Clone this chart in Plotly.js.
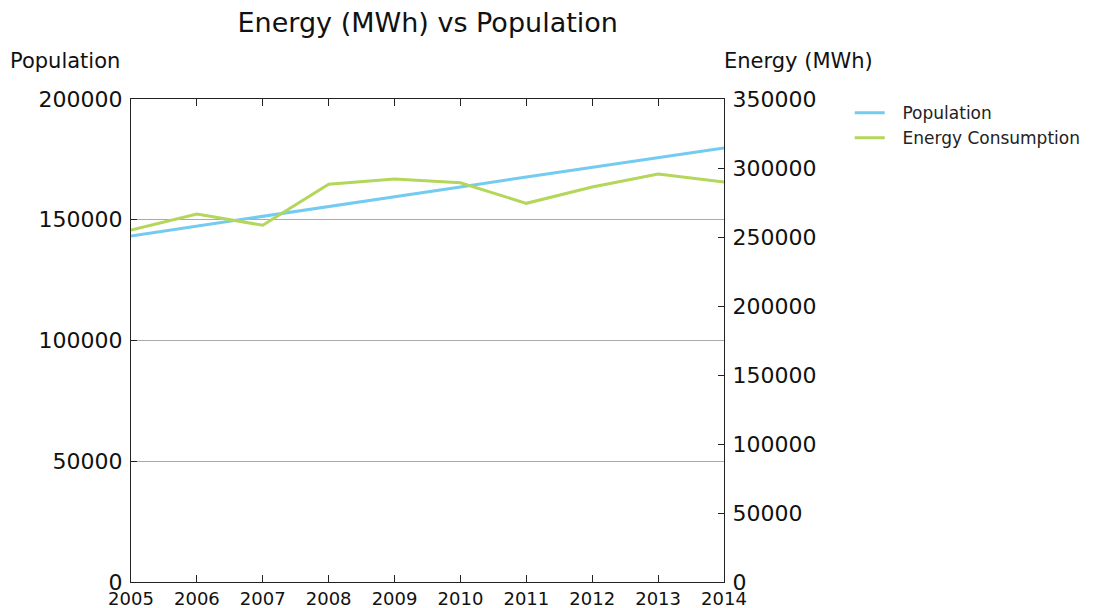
<!DOCTYPE html>
<html>
<head>
<meta charset="utf-8">
<script src="https://cdn.plot.ly/plotly-3.0.1.min.js"></script>
<style>html,body{margin:0;padding:0;background:#fff;}#chart{width:1111px;height:608px;}</style>
</head>
<body>
<div id="chart"></div>
<script>
const years = [2005, 2006, 2007, 2008, 2009, 2010, 2011, 2012, 2013, 2014];
const population = [143300, 147300, 151300, 155400, 159500, 163600, 167700, 171700, 175700, 179700];
const energy = [255000, 266700, 258500, 288200, 292000, 289300, 274400, 286200, 295700, 289900];
const popTicks = [0, 50000, 100000, 150000, 200000];
const energyTicks = [0, 50000, 100000, 150000, 200000, 250000, 300000, 350000];
const seriesNames = ['Population', 'Energy Consumption'];

const F = 'DejaVu Sans, sans-serif';
const pad = '\u2002\u2005';
const traces = [
  {x: years, y: population, name: pad + seriesNames[0], type: 'scatter', mode: 'lines',
   line: {color: '#74CBF0', width: 3}, yaxis: 'y'},
  {x: years, y: energy, name: pad + seriesNames[1], type: 'scatter', mode: 'lines',
   line: {color: '#B4D65A', width: 3}, yaxis: 'y2'}
];
const layout = {
  width: 1111, height: 608,
  margin: {l: 131, r: 387, t: 99, b: 26},
  paper_bgcolor: '#fff', plot_bgcolor: '#fff',
  font: {family: F, color: '#111'},
  title: {text: 'Energy (MWh) vs Population', font: {family: F, size: 27, color: '#111'},
          x: 0.385, xanchor: 'center', y: 0.963, yanchor: 'middle'},
  showlegend: true,
  legend: {x: 1.212, xanchor: 'left', y: 1.008, yanchor: 'top', font: {family: F, size: 17, color: '#222'},
           bgcolor: 'rgba(0,0,0,0)', tracegroupgap: 0},
  xaxis: {range: [2005, 2014], tickvals: years, ticktext: years.map(String),
          showgrid: false, zeroline: false, showline: true, linecolor: '#222', linewidth: 1.2,
          mirror: 'ticks', ticks: 'inside', ticklen: 7, tickcolor: '#222',
          tickfont: {family: F, size: 18, color: '#111'}},
  yaxis: {range: [0, 200000], tickvals: popTicks, ticktext: popTicks.map(String),
          showgrid: true, gridcolor: '#aaaaaa', gridwidth: 1, zeroline: false,
          showline: true, linecolor: '#222', linewidth: 1.2, ticks: 'inside', ticklen: 6, tickcolor: '#222',
          tickfont: {family: F, size: 22, color: '#111'}, ticklabelstandoff: 3},
  yaxis2: {range: [0, 350000], tickvals: energyTicks, ticktext: energyTicks.map(String),
           overlaying: 'y', side: 'right', showgrid: false, zeroline: false,
           showline: true, linecolor: '#222', linewidth: 1.2, ticks: 'inside', ticklen: 6, tickcolor: '#222',
           tickfont: {family: F, size: 22, color: '#111'}, ticklabelstandoff: 3},
  annotations: [
    {text: 'Population', xref: 'paper', yref: 'paper', x: -0.207, y: 1.078, xanchor: 'left', yanchor: 'middle',
     showarrow: false, font: {family: F, size: 21, color: '#111'}},
    {text: 'Energy (MWh)', xref: 'paper', yref: 'paper', x: 0.997, y: 1.078, xanchor: 'left', yanchor: 'middle',
     showarrow: false, font: {family: F, size: 21, color: '#111'}}
  ]
};
Plotly.newPlot('chart', traces, layout, {displayModeBar: false, staticPlot: true});
</script>
</body>
</html>
